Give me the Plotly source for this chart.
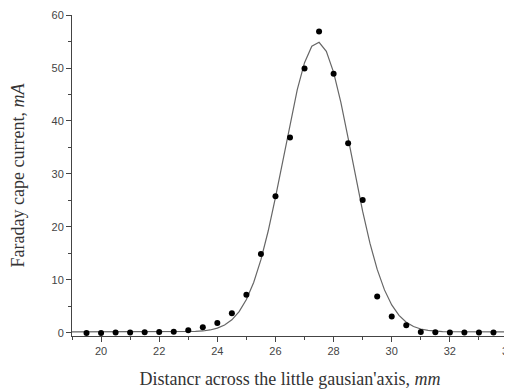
import plotly.graph_objects as go

# measured points
x_pts = [19.5, 20, 20.5, 21, 21.5, 22, 22.5, 23, 23.5, 24, 24.5, 25, 25.5, 26, 26.5,
         27, 27.5, 28, 28.5, 29, 29.5, 30, 30.5, 31, 31.5, 32, 32.5, 33, 33.5]
y_pts = [0.0, 0.0, 0.1, 0.1, 0.15, 0.2, 0.25, 0.5, 1.1, 1.9, 3.7, 7.2, 14.9, 25.8, 36.9,
         49.9, 56.9, 48.9, 35.8, 25.1, 6.9, 3.1, 1.45, 0.2, 0.15, 0.1, 0.1, 0.1, 0.1]

# fitted curve
x_fit = [19, 20, 21, 22, 22.5, 23, 23.25, 23.5, 23.75, 24, 24.25, 24.5, 24.75, 25, 25.25,
         25.5, 25.75, 26, 26.25, 26.5, 26.75, 27, 27.25, 27.5, 27.75, 28, 28.25, 28.5,
         28.75, 29, 29.25, 29.5, 29.75, 30, 30.25, 30.5, 30.75, 31, 31.25, 31.5, 31.75,
         32, 32.5, 33, 34]
y_fit = [0.2, 0.2, 0.2, 0.2, 0.21, 0.24, 0.29, 0.38, 0.57, 0.91, 1.5, 2.48, 4.02, 6.32, 9.54,
         13.84, 19.24, 25.58, 32.53, 39.53, 45.93, 51.0, 54.1, 54.85, 53.13, 49.18, 43.5, 36.77,
         29.71, 22.94, 16.95, 11.99, 8.13, 5.29, 3.32, 2.03, 1.23, 0.75, 0.48, 0.34, 0.26,
         0.23, 0.21, 0.2, 0.2]

x_title = "Distancr across the little gausian'axis, <i>mm</i>"
y_title = "Faraday cape current, <i>mA</i>"

fig = go.Figure()
fig.add_trace(go.Scatter(x=x_fit, y=y_fit, mode="lines",
                         line=dict(color="#666666", width=1.2), showlegend=False))
fig.add_trace(go.Scatter(x=x_pts, y=y_pts, mode="markers",
                         marker=dict(color="black", size=6), showlegend=False))

tickfont = dict(family="Liberation Sans, Arial", size=11, color="#444444")
titlefont = dict(family="Liberation Serif, Times New Roman", size=18, color="#333333")

fig.update_layout(
    width=504, height=381,
    margin=dict(l=64, r=4, t=7, b=53),
    plot_bgcolor="white", paper_bgcolor="white",
    xaxis=dict(range=[19, 34], tickmode="array", tickvals=[20, 22, 24, 26, 28, 30, 32, 34],
               ticks="outside", ticklen=5, tickwidth=1, tickcolor="#444444",
               showline=True, linecolor="#444444", linewidth=1, showgrid=False, zeroline=False,
               tickfont=tickfont, automargin=False, ticklabeloverflow="allow",
               minor=dict(tickvals=[19, 21, 23, 25, 27, 29, 31, 33], ticks="outside",
                          ticklen=3, tickcolor="#444444"),
               title=dict(text=x_title, font=titlefont, standoff=20)),
    yaxis=dict(range=[-0.57, 60], tickmode="array", tickvals=[0, 10, 20, 30, 40, 50, 60],
               ticks="outside", ticklen=5, tickwidth=1, tickcolor="#444444",
               showline=True, linecolor="#444444", linewidth=1, showgrid=False, zeroline=False,
               tickfont=tickfont, automargin=False, ticklabeloverflow="allow",
               minor=dict(tickvals=[5, 15, 25, 35, 45, 55], ticks="outside",
                          ticklen=3, tickcolor="#444444"),
               title=dict(text=y_title, font=titlefont, standoff=27)),
)

fig.write_html("out.html")
